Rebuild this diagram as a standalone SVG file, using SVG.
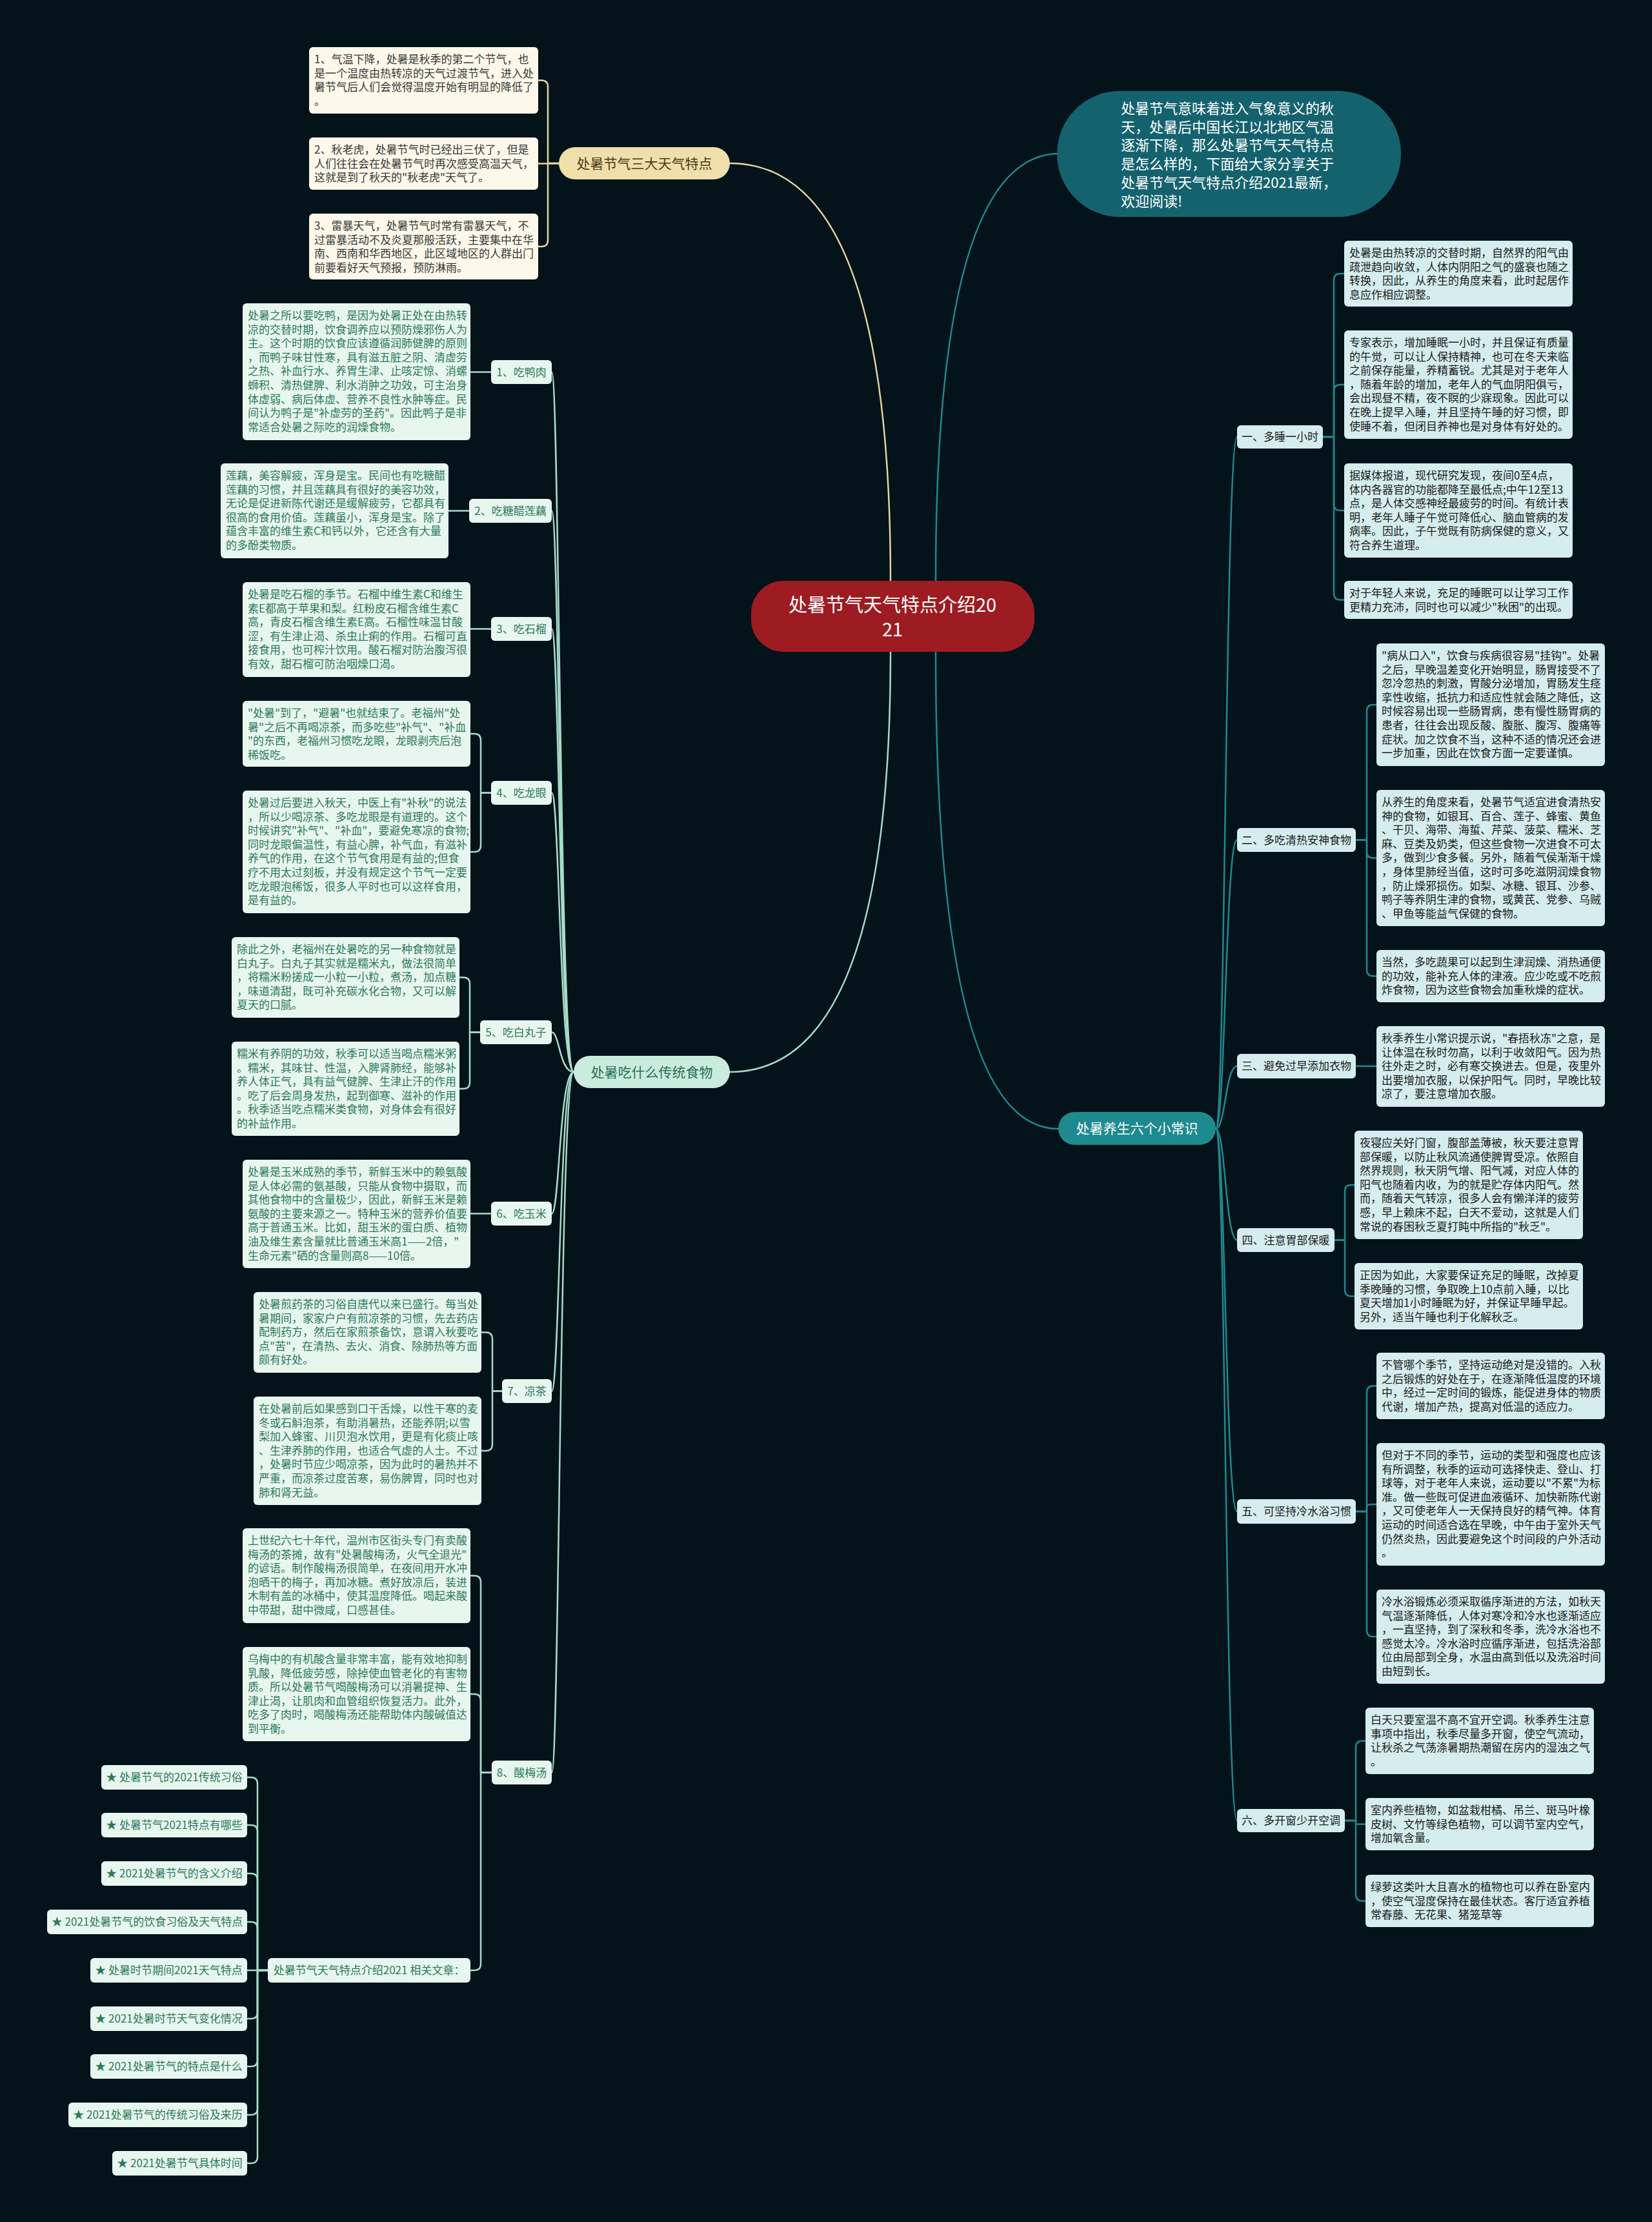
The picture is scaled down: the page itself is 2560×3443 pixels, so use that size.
<svg xmlns="http://www.w3.org/2000/svg" width="2560" height="3443" viewBox="0 0 2560 3443">
<style>
text{font-family:"Noto Sans CJK SC","Noto Sans",sans-serif;}
.bt{font-size:17px;}
.lbl{font-size:17px;text-anchor:middle;}
.main{font-size:21px;text-anchor:middle;}
.cb{fill:#fdf8ea;}
.ct{fill:#383838;}
.gb{fill:#e8f6f0;}
.gt{fill:#2c7a5a;}
.tb{fill:#d5edee;}
.tt{fill:#1b1b1b;}
.ln{fill:none;stroke-width:2.5;stroke-linecap:round;stroke-linejoin:round;}
.lb{stroke:#e4d4a0;}
.lg{stroke:#a6dcc8;}
.lt{stroke:#1f8a8f;}
</style>
<rect width="2560" height="3443" fill="#04121a"/>

<g id="connectors">
<path class="ln lb" stroke-width="3" d="M1131 253Q1380 253 1380 900"/>
<path class="ln lg" stroke-width="3" d="M1131 1661Q1380 1661 1380 1010"/>
<path class="ln lt" stroke-width="3" d="M1642 238Q1450 238 1450 900"/>
<path class="ln lt" stroke-width="3" d="M1640 1749Q1450 1749 1450 1010"/>
<path class="ln lb" d="M866 253H849V134.5Q849 124.5 839 124.5H834"/>
<path class="ln lb" d="M866 253.5H834"/>
<path class="ln lb" d="M866 253H849V372Q849 382 839 382H834"/>
<path class="ln lg" d="M889 1661C867 1661 867 576.5 855 576.5"/>
<path class="ln lg" d="M889 1661C867 1661 867 791.5 855 791.5"/>
<path class="ln lg" d="M889 1661C867 1661 867 974.5 855 974.5"/>
<path class="ln lg" d="M889 1661C867 1661 867 1228.5 855 1228.5"/>
<path class="ln lg" d="M889 1661C867 1661 867 1599.5 855 1599.5"/>
<path class="ln lg" d="M889 1661C867 1661 867 1880.5 855 1880.5"/>
<path class="ln lg" d="M889 1661C867 1661 867 2155.5 855 2155.5"/>
<path class="ln lg" d="M889 1661C867 1661 867 2746.5 855 2746.5"/>
<path class="ln lg" d="M761 576.5H729"/>
<path class="ln lg" d="M727 791.5H695"/>
<path class="ln lg" d="M761 974.5H729"/>
<path class="ln lg" d="M761 1228.5H745V1147Q745 1137 735 1137H729"/>
<path class="ln lg" d="M761 1228.5H745V1310Q745 1320 735 1320H729"/>
<path class="ln lg" d="M744 1599.5H728V1524.5Q728 1514.5 718 1514.5H712"/>
<path class="ln lg" d="M744 1599.5H728V1677Q728 1687 718 1687H712"/>
<path class="ln lg" d="M761 1880.5H729"/>
<path class="ln lg" d="M778 2155.5H763V2074.5Q763 2064.5 753 2064.5H746"/>
<path class="ln lg" d="M778 2155.5H763V2238Q763 2248 753 2248H746"/>
<path class="ln lg" d="M762 2746.5H745V2451.5Q745 2441.5 735 2441.5H729"/>
<path class="ln lg" d="M762 2746.5H745V2635Q745 2625 735 2625H729"/>
<path class="ln lg" d="M762 2746.5H745V3043Q745 3053 735 3053H729"/>
<path class="ln lg" d="M415 3053H399V2764Q399 2754 389 2754H383"/>
<path class="ln lg" d="M415 3053H399V2838Q399 2828 389 2828H383"/>
<path class="ln lg" d="M415 3053H399V2913Q399 2903 389 2903H383"/>
<path class="ln lg" d="M415 3053H399V2988Q399 2978 389 2978H383"/>
<path class="ln lg" d="M415 3053H383"/>
<path class="ln lg" d="M415 3053H399V3118Q399 3128 389 3128H383"/>
<path class="ln lg" d="M415 3053H399V3192Q399 3202 389 3202H383"/>
<path class="ln lg" d="M415 3053H399V3267Q399 3277 389 3277H383"/>
<path class="ln lg" d="M415 3053H399V3342Q399 3352 389 3352H383"/>
<path class="ln lt" d="M1884 1749C1899 1749 1899 677 1917 677"/>
<path class="ln lt" d="M1884 1749C1899 1749 1899 1301.5 1917 1301.5"/>
<path class="ln lt" d="M1884 1749C1899 1749 1899 1652 1917 1652"/>
<path class="ln lt" d="M1884 1749C1899 1749 1899 1921.5 1917 1921.5"/>
<path class="ln lt" d="M1884 1749C1899 1749 1899 2342 1917 2342"/>
<path class="ln lt" d="M1884 1749C1899 1749 1899 2821 1917 2821"/>
<path class="ln lt" d="M2050 677H2067V434Q2067 424 2077 424H2083"/>
<path class="ln lt" d="M2050 677H2067V606Q2067 596 2077 596H2083"/>
<path class="ln lt" d="M2050 677H2067V781Q2067 791 2077 791H2083"/>
<path class="ln lt" d="M2050 677H2067V919.5Q2067 929.5 2077 929.5H2083"/>
<path class="ln lt" d="M2101 1301.5H2118V1102Q2118 1092 2128 1092H2133"/>
<path class="ln lt" d="M2101 1301.5H2118V1319.5Q2118 1329.5 2128 1329.5H2133"/>
<path class="ln lt" d="M2101 1301.5H2118V1502.5Q2118 1512.5 2128 1512.5H2133"/>
<path class="ln lt" d="M2101 1652H2133"/>
<path class="ln lt" d="M2068 1921.5H2084V1846Q2084 1836 2094 1836H2099"/>
<path class="ln lt" d="M2068 1921.5H2084V1998.5Q2084 2008.5 2094 2008.5H2099"/>
<path class="ln lt" d="M2101 2342H2118V2157.5Q2118 2147.5 2128 2147.5H2133"/>
<path class="ln lt" d="M2101 2342H2118V2336Q2118 2331 2124 2331H2133"/>
<path class="ln lt" d="M2101 2342H2118V2526Q2118 2536 2128 2536H2133"/>
<path class="ln lt" d="M2084 2821H2101V2707.5Q2101 2697.5 2111 2697.5H2116"/>
<path class="ln lt" d="M2084 2821H2101V2826.5H2116"/>
<path class="ln lt" d="M2084 2821H2101V2935.5Q2101 2945.5 2111 2945.5H2116"/>
</g>

<g id="root">
<rect x="1164" y="900" width="439" height="110" rx="50" fill="#9d1c22"/>
<text x="1383" y="948" font-size="29" fill="#ffffff" text-anchor="middle">处暑节气天气特点介绍20</text>
<text x="1383" y="986" font-size="29" fill="#ffffff" text-anchor="middle">21</text>
</g>

<g id="intro">
<rect x="1638" y="141" width="533" height="195" rx="97" fill="#15626f"/>
<text x="1737" y="176" font-size="22" fill="#ffffff"><tspan x="1737">处暑节气意味着进入气象意义的秋</tspan><tspan x="1737" dy="28.7">天，处暑后中国长江以北地区气温</tspan><tspan x="1737" dy="28.7">逐渐下降，那么处暑节气天气特点</tspan><tspan x="1737" dy="28.7">是怎么样的，下面给大家分享关于</tspan><tspan x="1737" dy="28.7">处暑节气天气特点介绍2021最新，</tspan><tspan x="1737" dy="28.7">欢迎阅读!</tspan></text>
</g>

<g id="weather">
<rect x="866" y="228" width="265" height="50" rx="25" fill="#f0dfab"/>
<text class="main" x="998.5" y="260.5" fill="#4a3a18">处暑节气三大天气特点</text>
</g>
<g id="weather-1">
<rect class="cb" x="479" y="73" width="355" height="103" rx="6"/>
<text class="bt ct" x="487" y="98"><tspan x="487">1、气温下降，处暑是秋季的第二个节气，也</tspan><tspan x="487" dy="21.6">是一个温度由热转凉的天气过渡节气，进入处</tspan><tspan x="487" dy="21.6">暑节气后人们会觉得温度开始有明显的降低了</tspan><tspan x="487" dy="21.6">。</tspan></text>
</g>
<g id="weather-2">
<rect class="cb" x="479" y="213" width="355" height="81" rx="6"/>
<text class="bt ct" x="487" y="238"><tspan x="487">2、秋老虎，处暑节气时已经出三伏了，但是</tspan><tspan x="487" dy="21.6">人们往往会在处暑节气时再次感受高温天气，</tspan><tspan x="487" dy="21.6">这就是到了秋天的"秋老虎"天气了。</tspan></text>
</g>
<g id="weather-3">
<rect class="cb" x="479" y="331" width="355" height="102" rx="6"/>
<text class="bt ct" x="487" y="356"><tspan x="487">3、雷暴天气，处暑节气时常有雷暴天气，不</tspan><tspan x="487" dy="21.6">过雷暴活动不及炎夏那般活跃，主要集中在华</tspan><tspan x="487" dy="21.6">南、西南和华西地区，此区域地区的人群出门</tspan><tspan x="487" dy="21.6">前要看好天气预报，预防淋雨。</tspan></text>
</g>

<g id="food">
<rect x="889" y="1636" width="242" height="50" rx="25" fill="#c9ecdf"/>
<text class="main" x="1010" y="1668.5" fill="#2a6e55">处暑吃什么传统食物</text>
</g>
<g id="food-1">
<rect class="gb" x="761" y="558" width="94" height="37" rx="6"/>
<text class="lbl gt" x="808" y="582.5">1、吃鸭肉</text>
</g>
<g id="food-1-a">
<rect class="gb" x="376" y="470" width="353" height="212" rx="6"/>
<text class="bt gt" x="384" y="495"><tspan x="384">处暑之所以要吃鸭，是因为处暑正处在由热转</tspan><tspan x="384" dy="21.6">凉的交替时期，饮食调养应以预防燥邪伤人为</tspan><tspan x="384" dy="21.6">主。这个时期的饮食应该遵循润肺健脾的原则</tspan><tspan x="384" dy="21.6">，而鸭子味甘性寒，具有滋五脏之阴、清虚劳</tspan><tspan x="384" dy="21.6">之热、补血行水、养胃生津、止咳定惊、消螺</tspan><tspan x="384" dy="21.6">蛳积、清热健脾、利水消肿之功效，可主治身</tspan><tspan x="384" dy="21.6">体虚弱、病后体虚、营养不良性水肿等症。民</tspan><tspan x="384" dy="21.6">间认为鸭子是"补虚劳的圣药"。因此鸭子是非</tspan><tspan x="384" dy="21.6">常适合处暑之际吃的润燥食物。</tspan></text>
</g>
<g id="food-2">
<rect class="gb" x="727" y="773" width="128" height="37" rx="6"/>
<text class="lbl gt" x="791" y="797.5">2、吃糖醋莲藕</text>
</g>
<g id="food-2-a">
<rect class="gb" x="342" y="718" width="353" height="147" rx="6"/>
<text class="bt gt" x="350" y="743"><tspan x="350">莲藕，美容解疲，浑身是宝。民间也有吃糖醋</tspan><tspan x="350" dy="21.6">莲藕的习惯，并且莲藕具有很好的美容功效，</tspan><tspan x="350" dy="21.6">无论是促进新陈代谢还是缓解疲劳，它都具有</tspan><tspan x="350" dy="21.6">很高的食用价值。莲藕虽小，浑身是宝。除了</tspan><tspan x="350" dy="21.6">蕴含丰富的维生素C和钙以外，它还含有大量</tspan><tspan x="350" dy="21.6">的多酚类物质。</tspan></text>
</g>
<g id="food-3">
<rect class="gb" x="761" y="956" width="94" height="37" rx="6"/>
<text class="lbl gt" x="808" y="980.5">3、吃石榴</text>
</g>
<g id="food-3-a">
<rect class="gb" x="376" y="902" width="353" height="147" rx="6"/>
<text class="bt gt" x="384" y="927"><tspan x="384">处暑是吃石榴的季节。石榴中维生素C和维生</tspan><tspan x="384" dy="21.6">素E都高于苹果和梨。红粉皮石榴含维生素C</tspan><tspan x="384" dy="21.6">高，青皮石榴含维生素E高。石榴性味温甘酸</tspan><tspan x="384" dy="21.6">涩，有生津止渴、杀虫止痢的作用。石榴可直</tspan><tspan x="384" dy="21.6">接食用，也可榨汁饮用。酸石榴对防治腹泻很</tspan><tspan x="384" dy="21.6">有效，甜石榴可防治咽燥口渴。</tspan></text>
</g>
<g id="food-4">
<rect class="gb" x="761" y="1210" width="94" height="37" rx="6"/>
<text class="lbl gt" x="808" y="1234.5">4、吃龙眼</text>
</g>
<g id="food-4-a">
<rect class="gb" x="376" y="1086" width="353" height="102" rx="6"/>
<text class="bt gt" x="384" y="1111"><tspan x="384">"处暑"到了，"避暑"也就结束了。老福州"处</tspan><tspan x="384" dy="21.6">暑"之后不再喝凉茶，而多吃些"补气"、"补血</tspan><tspan x="384" dy="21.6">"的东西，老福州习惯吃龙眼，龙眼剥壳后泡</tspan><tspan x="384" dy="21.6">稀饭吃。</tspan></text>
</g>
<g id="food-4-b">
<rect class="gb" x="376" y="1225" width="353" height="190" rx="6"/>
<text class="bt gt" x="384" y="1250"><tspan x="384">处暑过后要进入秋天，中医上有"补秋"的说法</tspan><tspan x="384" dy="21.6">，所以少喝凉茶、多吃龙眼是有道理的。这个</tspan><tspan x="384" dy="21.6">时候讲究"补气"、"补血"，要避免寒凉的食物;</tspan><tspan x="384" dy="21.6">同时龙眼偏温性，有益心脾，补气血，有滋补</tspan><tspan x="384" dy="21.6">养气的作用，在这个节气食用是有益的;但食</tspan><tspan x="384" dy="21.6">疗不用太过刻板，并没有规定这个节气一定要</tspan><tspan x="384" dy="21.6">吃龙眼泡稀饭，很多人平时也可以这样食用，</tspan><tspan x="384" dy="21.6">是有益的。</tspan></text>
</g>
<g id="food-5">
<rect class="gb" x="744" y="1581" width="111" height="37" rx="6"/>
<text class="lbl gt" x="799.5" y="1605.5">5、吃白丸子</text>
</g>
<g id="food-5-a">
<rect class="gb" x="359" y="1452" width="353" height="125" rx="6"/>
<text class="bt gt" x="367" y="1477"><tspan x="367">除此之外，老福州在处暑吃的另一种食物就是</tspan><tspan x="367" dy="21.6">白丸子。白丸子其实就是糯米丸，做法很简单</tspan><tspan x="367" dy="21.6">，将糯米粉搓成一小粒一小粒，煮汤，加点糖</tspan><tspan x="367" dy="21.6">，味道清甜，既可补充碳水化合物，又可以解</tspan><tspan x="367" dy="21.6">夏天的口腻。</tspan></text>
</g>
<g id="food-5-b">
<rect class="gb" x="359" y="1614" width="353" height="146" rx="6"/>
<text class="bt gt" x="367" y="1639"><tspan x="367">糯米有养阴的功效，秋季可以适当喝点糯米粥</tspan><tspan x="367" dy="21.6">。糯米，其味甘、性温，入脾肾肺经，能够补</tspan><tspan x="367" dy="21.6">养人体正气，具有益气健脾、生津止汗的作用</tspan><tspan x="367" dy="21.6">。吃了后会周身发热，起到御寒、滋补的作用</tspan><tspan x="367" dy="21.6">。秋季适当吃点糯米类食物，对身体会有很好</tspan><tspan x="367" dy="21.6">的补益作用。</tspan></text>
</g>
<g id="food-6">
<rect class="gb" x="761" y="1862" width="94" height="37" rx="6"/>
<text class="lbl gt" x="808" y="1886.5">6、吃玉米</text>
</g>
<g id="food-6-a">
<rect class="gb" x="376" y="1797" width="353" height="168" rx="6"/>
<text class="bt gt" x="384" y="1822"><tspan x="384">处暑是玉米成熟的季节，新鲜玉米中的赖氨酸</tspan><tspan x="384" dy="21.6">是人体必需的氨基酸，只能从食物中摄取，而</tspan><tspan x="384" dy="21.6">其他食物中的含量极少，因此，新鲜玉米是赖</tspan><tspan x="384" dy="21.6">氨酸的主要来源之一。特种玉米的营养价值要</tspan><tspan x="384" dy="21.6">高于普通玉米。比如，甜玉米的蛋白质、植物</tspan><tspan x="384" dy="21.6">油及维生素含量就比普通玉米高1——2倍，"</tspan><tspan x="384" dy="21.6">生命元素"硒的含量则高8——10倍。</tspan></text>
</g>
<g id="food-7">
<rect class="gb" x="778" y="2137" width="77" height="37" rx="6"/>
<text class="lbl gt" x="816.5" y="2161.5">7、凉茶</text>
</g>
<g id="food-7-a">
<rect class="gb" x="393" y="2002" width="353" height="125" rx="6"/>
<text class="bt gt" x="401" y="2027"><tspan x="401">处暑煎药茶的习俗自唐代以来已盛行。每当处</tspan><tspan x="401" dy="21.6">暑期间，家家户户有煎凉茶的习惯，先去药店</tspan><tspan x="401" dy="21.6">配制药方，然后在家煎茶备饮，意谓入秋要吃</tspan><tspan x="401" dy="21.6">点"苦"，在清热、去火、消食、除肺热等方面</tspan><tspan x="401" dy="21.6">颇有好处。</tspan></text>
</g>
<g id="food-7-b">
<rect class="gb" x="393" y="2164" width="353" height="168" rx="6"/>
<text class="bt gt" x="401" y="2189"><tspan x="401">在处暑前后如果感到口干舌燥，以性干寒的麦</tspan><tspan x="401" dy="21.6">冬或石斛泡茶，有助消暑热，还能养阴;以雪</tspan><tspan x="401" dy="21.6">梨加入蜂蜜、川贝泡水饮用，更是有化痰止咳</tspan><tspan x="401" dy="21.6">、生津养肺的作用，也适合气虚的人士。不过</tspan><tspan x="401" dy="21.6">，处暑时节应少喝凉茶，因为此时的暑热并不</tspan><tspan x="401" dy="21.6">严重，而凉茶过度苦寒，易伤脾胃，同时也对</tspan><tspan x="401" dy="21.6">肺和肾无益。</tspan></text>
</g>
<g id="food-8">
<rect class="gb" x="762" y="2728" width="93" height="37" rx="6"/>
<text class="lbl gt" x="808.5" y="2752.5">8、酸梅汤</text>
</g>
<g id="food-8-a">
<rect class="gb" x="376" y="2368" width="353" height="147" rx="6"/>
<text class="bt gt" x="384" y="2393"><tspan x="384">上世纪六七十年代，温州市区街头专门有卖酸</tspan><tspan x="384" dy="21.6">梅汤的茶摊，故有"处暑酸梅汤，火气全退光"</tspan><tspan x="384" dy="21.6">的谚语。制作酸梅汤很简单，在夜间用开水冲</tspan><tspan x="384" dy="21.6">泡晒干的梅子，再加冰糖。煮好放凉后，装进</tspan><tspan x="384" dy="21.6">木制有盖的冰桶中，使其温度降低。喝起来酸</tspan><tspan x="384" dy="21.6">中带甜，甜中微咸，口感甚佳。</tspan></text>
</g>
<g id="food-8-b">
<rect class="gb" x="376" y="2552" width="353" height="146" rx="6"/>
<text class="bt gt" x="384" y="2577"><tspan x="384">乌梅中的有机酸含量非常丰富，能有效地抑制</tspan><tspan x="384" dy="21.6">乳酸，降低疲劳感，除掉使血管老化的有害物</tspan><tspan x="384" dy="21.6">质。所以处暑节气喝酸梅汤可以消暑提神、生</tspan><tspan x="384" dy="21.6">津止渴，让肌肉和血管组织恢复活力。此外，</tspan><tspan x="384" dy="21.6">吃多了肉时，喝酸梅汤还能帮助体内酸碱值达</tspan><tspan x="384" dy="21.6">到平衡。</tspan></text>
</g>
<g id="related">
<rect class="gb" x="415" y="3034" width="314" height="38" rx="6"/>
<text class="lbl gt" x="572" y="3059">处暑节气天气特点介绍2021 相关文章：</text>
</g>
<g id="related-1"><rect class="gb" x="157" y="2735" width="226" height="38" rx="6"/><text class="lbl gt" x="270" y="2760">★ 处暑节气的2021传统习俗</text></g>
<g id="related-2"><rect class="gb" x="157" y="2809" width="226" height="38" rx="6"/><text class="lbl gt" x="270" y="2834">★ 处暑节气2021特点有哪些</text></g>
<g id="related-3"><rect class="gb" x="157" y="2884" width="226" height="38" rx="6"/><text class="lbl gt" x="270" y="2909">★ 2021处暑节气的含义介绍</text></g>
<g id="related-4"><rect class="gb" x="73" y="2959" width="310" height="38" rx="6"/><text class="lbl gt" x="228" y="2984">★ 2021处暑节气的饮食习俗及天气特点</text></g>
<g id="related-5"><rect class="gb" x="140" y="3034" width="243" height="38" rx="6"/><text class="lbl gt" x="261.5" y="3059">★ 处暑时节期间2021天气特点</text></g>
<g id="related-6"><rect class="gb" x="140" y="3109" width="243" height="38" rx="6"/><text class="lbl gt" x="261.5" y="3134">★ 2021处暑时节天气变化情况</text></g>
<g id="related-7"><rect class="gb" x="140" y="3183" width="243" height="38" rx="6"/><text class="lbl gt" x="261.5" y="3208">★ 2021处暑节气的特点是什么</text></g>
<g id="related-8"><rect class="gb" x="106" y="3258" width="277" height="38" rx="6"/><text class="lbl gt" x="244.5" y="3283">★ 2021处暑节气的传统习俗及来历</text></g>
<g id="related-9"><rect class="gb" x="174" y="3333" width="209" height="38" rx="6"/><text class="lbl gt" x="278.5" y="3358">★ 2021处暑节气具体时间</text></g>

<g id="health">
<rect x="1640" y="1723" width="244" height="51" rx="25" fill="#1f8a8e"/>
<text class="main" x="1762" y="1756" fill="#ffffff">处暑养生六个小常识</text>
</g>
<g id="health-1">
<rect class="tb" x="1917" y="659" width="133" height="36" rx="6"/>
<text class="lbl tt" x="1983.5" y="683">一、多睡一小时</text>
</g>
<g id="health-1-a">
<rect class="tb" x="2083" y="373" width="354" height="102" rx="6"/>
<text class="bt tt" x="2091" y="398"><tspan x="2091">处暑是由热转凉的交替时期，自然界的阳气由</tspan><tspan x="2091" dy="21.6">疏泄趋向收敛，人体内阴阳之气的盛衰也随之</tspan><tspan x="2091" dy="21.6">转换，因此，从养生的角度来看，此时起居作</tspan><tspan x="2091" dy="21.6">息应作相应调整。</tspan></text>
</g>
<g id="health-1-b">
<rect class="tb" x="2083" y="512" width="354" height="168" rx="6"/>
<text class="bt tt" x="2091" y="537"><tspan x="2091">专家表示，增加睡眠一小时，并且保证有质量</tspan><tspan x="2091" dy="21.6">的午觉，可以让人保持精神，也可在冬天来临</tspan><tspan x="2091" dy="21.6">之前保存能量，养精蓄锐。尤其是对于老年人</tspan><tspan x="2091" dy="21.6">，随着年龄的增加，老年人的气血阴阳俱亏，</tspan><tspan x="2091" dy="21.6">会出现昼不精，夜不瞑的少寐现象。因此可以</tspan><tspan x="2091" dy="21.6">在晚上提早入睡，并且坚持午睡的好习惯，即</tspan><tspan x="2091" dy="21.6">使睡不着，但闭目养神也是对身体有好处的。</tspan></text>
</g>
<g id="health-1-c">
<rect class="tb" x="2083" y="718" width="354" height="146" rx="6"/>
<text class="bt tt" x="2091" y="743"><tspan x="2091">据媒体报道，现代研究发现，夜间0至4点，</tspan><tspan x="2091" dy="21.6">体内各器官的功能都降至最低点;中午12至13</tspan><tspan x="2091" dy="21.6">点，是人体交感神经最疲劳的时间。有统计表</tspan><tspan x="2091" dy="21.6">明，老年人睡子午觉可降低心、脑血管病的发</tspan><tspan x="2091" dy="21.6">病率。因此，子午觉既有防病保健的意义，又</tspan><tspan x="2091" dy="21.6">符合养生道理。</tspan></text>
</g>
<g id="health-1-d">
<rect class="tb" x="2083" y="900" width="354" height="59" rx="6"/>
<text class="bt tt" x="2091" y="925"><tspan x="2091">对于年轻人来说，充足的睡眠可以让学习工作</tspan><tspan x="2091" dy="21.6">更精力充沛，同时也可以减少"秋困"的出现。</tspan></text>
</g>
<g id="health-2">
<rect class="tb" x="1917" y="1283" width="184" height="37" rx="6"/>
<text class="lbl tt" x="2009" y="1307.5">二、多吃清热安神食物</text>
</g>
<g id="health-2-a">
<rect class="tb" x="2133" y="997" width="354" height="190" rx="6"/>
<text class="bt tt" x="2141" y="1022"><tspan x="2141">"病从口入"，饮食与疾病很容易"挂钩"。处暑</tspan><tspan x="2141" dy="21.6">之后，早晚温差变化开始明显，肠胃接受不了</tspan><tspan x="2141" dy="21.6">忽冷忽热的刺激，胃酸分泌增加，胃肠发生痉</tspan><tspan x="2141" dy="21.6">挛性收缩，抵抗力和适应性就会随之降低，这</tspan><tspan x="2141" dy="21.6">时候容易出现一些肠胃病，患有慢性肠胃病的</tspan><tspan x="2141" dy="21.6">患者，往往会出现反酸、腹胀、腹泻、腹痛等</tspan><tspan x="2141" dy="21.6">症状。加之饮食不当，这种不适的情况还会进</tspan><tspan x="2141" dy="21.6">一步加重，因此在饮食方面一定要谨慎。</tspan></text>
</g>
<g id="health-2-b">
<rect class="tb" x="2133" y="1224" width="354" height="211" rx="6"/>
<text class="bt tt" x="2141" y="1249"><tspan x="2141">从养生的角度来看，处暑节气适宜进食清热安</tspan><tspan x="2141" dy="21.6">神的食物，如银耳、百合、莲子、蜂蜜、黄鱼</tspan><tspan x="2141" dy="21.6">、干贝、海带、海蜇、芹菜、菠菜、糯米、芝</tspan><tspan x="2141" dy="21.6">麻、豆类及奶类，但这些食物一次进食不可太</tspan><tspan x="2141" dy="21.6">多，做到少食多餐。另外，随着气侯渐渐干燥</tspan><tspan x="2141" dy="21.6">，身体里肺经当值，这时可多吃滋阴润燥食物</tspan><tspan x="2141" dy="21.6">，防止燥邪损伤。如梨、冰糖、银耳、沙参、</tspan><tspan x="2141" dy="21.6">鸭子等养阴生津的食物，或黄芪、党参、乌贼</tspan><tspan x="2141" dy="21.6">、甲鱼等能益气保健的食物。</tspan></text>
</g>
<g id="health-2-c">
<rect class="tb" x="2133" y="1472" width="354" height="81" rx="6"/>
<text class="bt tt" x="2141" y="1497"><tspan x="2141">当然，多吃蔬果可以起到生津润燥、消热通便</tspan><tspan x="2141" dy="21.6">的功效，能补充人体的津液。应少吃或不吃煎</tspan><tspan x="2141" dy="21.6">炸食物，因为这些食物会加重秋燥的症状。</tspan></text>
</g>
<g id="health-3">
<rect class="tb" x="1917" y="1633" width="184" height="38" rx="6"/>
<text class="lbl tt" x="2009" y="1658">三、避免过早添加衣物</text>
</g>
<g id="health-3-a">
<rect class="tb" x="2133" y="1590" width="354" height="125" rx="6"/>
<text class="bt tt" x="2141" y="1615"><tspan x="2141">秋季养生小常识提示说，"春捂秋冻"之意，是</tspan><tspan x="2141" dy="21.6">让体温在秋时勿高，以利于收敛阳气。因为热</tspan><tspan x="2141" dy="21.6">往外走之时，必有寒交换进去。但是，夜里外</tspan><tspan x="2141" dy="21.6">出要增加衣服，以保护阳气。同时，早晚比较</tspan><tspan x="2141" dy="21.6">凉了，要注意增加衣服。</tspan></text>
</g>
<g id="health-4">
<rect class="tb" x="1917" y="1903" width="151" height="37" rx="6"/>
<text class="lbl tt" x="1992.5" y="1927.5">四、注意胃部保暖</text>
</g>
<g id="health-4-a">
<rect class="tb" x="2099" y="1752" width="354" height="168" rx="6"/>
<text class="bt tt" x="2107" y="1777"><tspan x="2107">夜寝应关好门窗，腹部盖薄被，秋天要注意胃</tspan><tspan x="2107" dy="21.6">部保暖，以防止秋风流通使脾胃受凉。依照自</tspan><tspan x="2107" dy="21.6">然界规则，秋天阴气增、阳气减，对应人体的</tspan><tspan x="2107" dy="21.6">阳气也随着内收，为的就是贮存体内阳气。然</tspan><tspan x="2107" dy="21.6">而，随着天气转凉，很多人会有懒洋洋的疲劳</tspan><tspan x="2107" dy="21.6">感，早上赖床不起，白天不爱动，这就是人们</tspan><tspan x="2107" dy="21.6">常说的春困秋乏夏打盹中所指的"秋乏"。</tspan></text>
</g>
<g id="health-4-b">
<rect class="tb" x="2099" y="1957" width="354" height="103" rx="6"/>
<text class="bt tt" x="2107" y="1982"><tspan x="2107">正因为如此，大家要保证充足的睡眠，改掉夏</tspan><tspan x="2107" dy="21.6">季晚睡的习惯，争取晚上10点前入睡，以比</tspan><tspan x="2107" dy="21.6">夏天增加1小时睡眠为好，并保证早睡早起。</tspan><tspan x="2107" dy="21.6">另外，适当午睡也利于化解秋乏。</tspan></text>
</g>
<g id="health-5">
<rect class="tb" x="1917" y="2323" width="184" height="38" rx="6"/>
<text class="lbl tt" x="2009" y="2348">五、可坚持冷水浴习惯</text>
</g>
<g id="health-5-a">
<rect class="tb" x="2133" y="2096" width="354" height="103" rx="6"/>
<text class="bt tt" x="2141" y="2121"><tspan x="2141">不管哪个季节，坚持运动绝对是没错的。入秋</tspan><tspan x="2141" dy="21.6">之后锻炼的好处在于，在逐渐降低温度的环境</tspan><tspan x="2141" dy="21.6">中，经过一定时间的锻炼，能促进身体的物质</tspan><tspan x="2141" dy="21.6">代谢，增加产热，提高对低温的适应力。</tspan></text>
</g>
<g id="health-5-b">
<rect class="tb" x="2133" y="2236" width="354" height="190" rx="6"/>
<text class="bt tt" x="2141" y="2261"><tspan x="2141">但对于不同的季节，运动的类型和强度也应该</tspan><tspan x="2141" dy="21.6">有所调整，秋季的运动可选择快走、登山、打</tspan><tspan x="2141" dy="21.6">球等，对于老年人来说，运动要以"不累"为标</tspan><tspan x="2141" dy="21.6">准。做一些既可促进血液循环、加快新陈代谢</tspan><tspan x="2141" dy="21.6">，又可使老年人一天保持良好的精气神。体育</tspan><tspan x="2141" dy="21.6">运动的时间适合选在早晚，中午由于室外天气</tspan><tspan x="2141" dy="21.6">仍然炎热，因此要避免这个时间段的户外活动</tspan><tspan x="2141" dy="21.6">。</tspan></text>
</g>
<g id="health-5-c">
<rect class="tb" x="2133" y="2463" width="354" height="146" rx="6"/>
<text class="bt tt" x="2141" y="2488"><tspan x="2141">冷水浴锻炼必须采取循序渐进的方法，如秋天</tspan><tspan x="2141" dy="21.6">气温逐渐降低，人体对寒冷和冷水也逐渐适应</tspan><tspan x="2141" dy="21.6">，一直坚持，到了深秋和冬季，洗冷水浴也不</tspan><tspan x="2141" dy="21.6">感觉太冷。冷水浴时应循序渐进，包括洗浴部</tspan><tspan x="2141" dy="21.6">位由局部到全身，水温由高到低以及洗浴时间</tspan><tspan x="2141" dy="21.6">由短到长。</tspan></text>
</g>
<g id="health-6">
<rect class="tb" x="1917" y="2803" width="167" height="36" rx="6"/>
<text class="lbl tt" x="2000.5" y="2827">六、多开窗少开空调</text>
</g>
<g id="health-6-a">
<rect class="tb" x="2116" y="2646" width="354" height="103" rx="6"/>
<text class="bt tt" x="2124" y="2671"><tspan x="2124">白天只要室温不高不宜开空调。秋季养生注意</tspan><tspan x="2124" dy="21.6">事项中指出，秋季尽量多开窗，使空气流动，</tspan><tspan x="2124" dy="21.6">让秋杀之气荡涤暑期热潮留在房内的湿浊之气</tspan><tspan x="2124" dy="21.6">。</tspan></text>
</g>
<g id="health-6-b">
<rect class="tb" x="2116" y="2786" width="354" height="81" rx="6"/>
<text class="bt tt" x="2124" y="2811"><tspan x="2124">室内养些植物，如盆栽柑橘、吊兰、斑马叶橡</tspan><tspan x="2124" dy="21.6">皮树、文竹等绿色植物，可以调节室内空气，</tspan><tspan x="2124" dy="21.6">增加氧含量。</tspan></text>
</g>
<g id="health-6-c">
<rect class="tb" x="2116" y="2905" width="354" height="81" rx="6"/>
<text class="bt tt" x="2124" y="2930"><tspan x="2124">绿萝这类叶大且喜水的植物也可以养在卧室内</tspan><tspan x="2124" dy="21.6">，使空气湿度保持在最佳状态。客厅适宜养植</tspan><tspan x="2124" dy="21.6">常春藤、无花果、猪笼草等</tspan></text>
</g>
</svg>
